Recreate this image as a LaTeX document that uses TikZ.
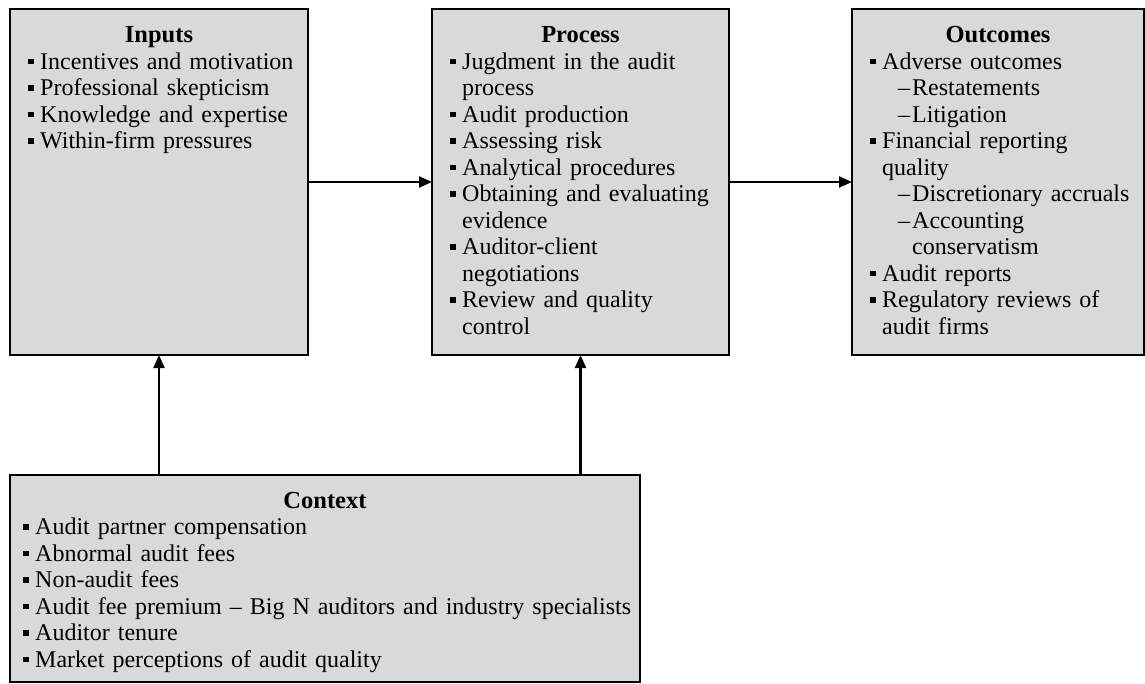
\documentclass[tikz,border=0pt]{standalone}
\usepackage{fontspec}
\setmainfont{Liberation Serif}
\usetikzlibrary{arrows.meta}
\definecolor{boxgray}{HTML}{D9D9D9}
\newcommand\bul{\leavevmode\llap{\rule[5pt]{5.5pt}{5.5pt}\hspace{6.5pt}}}
\newcommand\sub{\leavevmode\hspace*{16pt}\makebox[14pt][l]{–}}
\newcommand\cont{\leavevmode\hspace*{30pt}}
\begin{document}
\begin{tikzpicture}[x=1pt,y=-1pt,
  box/.style={draw=black, fill=boxgray, line width=1.6pt, inner sep=0pt, outer sep=0pt, anchor=north west},
  ttl/.style={anchor=base, inner sep=0pt, font=\fontsize{24.5}{26.5}\selectfont\bfseries},
  lst/.style={anchor=base west, inner sep=0pt, text width=320pt, align=left, font=\fontsize{24}{26.5}\selectfont},
  arr/.style={line width=2.2pt, -{Triangle[length=13pt,width=11pt]}}]
\useasboundingbox (0,0) rectangle (1145,683);
\fill[white] (0,0) rectangle (1145,683);
% boxes
\node[box, minimum width=298pt, minimum height=346pt] (inp) at (10,9) {};
\node[box, minimum width=297pt, minimum height=346pt] (proc) at (432,9) {};
\node[box, minimum width=292pt, minimum height=346pt] (out) at (852,9) {};
\node[box, minimum width=630pt, minimum height=207pt] (ctx) at (10,475) {};
% titles
\node[ttl] (inpT) at (159,42) {Inputs};
\node[ttl] (procT) at (580.5,42) {Process};
\node[ttl] (outT) at (998,42) {Outcomes};
\node[ttl] (ctxT) at (325,508) {Context};
% lists
\node[lst] (inpL) at (40,69) {\bul Incentives and motivation\\
\bul Professional skepticism\\
\bul Knowledge and expertise\\
\bul Within-firm pressures};
\node[lst] (procL) at (462,69) {\bul Jugdment in the audit\\
process\\
\bul Audit production\\
\bul Assessing risk\\
\bul Analytical procedures\\
\bul Obtaining and evaluating\\
evidence\\
\bul Auditor-client\\
negotiations\\
\bul Review and quality\\
control};
\node[lst] (outL) at (882,69) {\bul Adverse outcomes\\
\sub Restatements\\
\sub Litigation\\
\bul Financial reporting\\
quality\\
\sub Discretionary accruals\\
\sub Accounting\\
\cont conservatism\\
\bul Audit reports\\
\bul Regulatory reviews of\\
audit firms};
\node[lst, text width=640pt] (ctxL) at (35,534.5) {\bul Audit partner compensation\\
\bul Abnormal audit fees\\
\bul Non-audit fees\\
\bul Audit fee premium – Big N auditors and industry specialists\\
\bul Auditor tenure\\
\bul Market perceptions of audit quality};
% connectors
\draw[arr] (inp.east) -- (proc.west);
\draw[arr] (proc.east) -- (proc.east -| out.west);
\draw[arr] (inp.south |- ctx.north) -- (inp.south);
\draw[arr] (proc.south |- ctx.north) -- (proc.south);
\end{tikzpicture}
\end{document}
